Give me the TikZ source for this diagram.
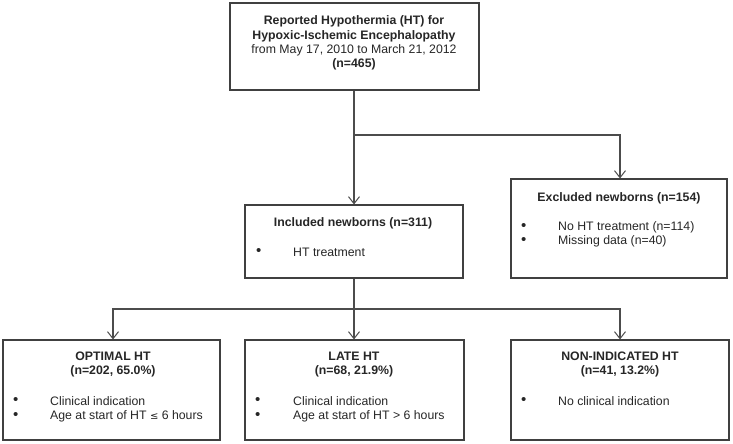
\documentclass[tikz,border=0pt]{standalone}
\usepackage{fontspec}
\setmainfont{Liberation Sans}
\usetikzlibrary{arrows.meta}
\begin{document}
\begin{tikzpicture}[x=1pt,y=-1pt,
  box/.style={draw=black!75,line width=1.1pt,rectangle,inner sep=0pt},
  conn/.style={draw=black!70,line width=1.1pt},
  arr/.style={conn,-{Straight Barb[length=7pt,width=11pt,line width=1pt]}},
  txt/.style={inner sep=0pt,font=\fontsize{12.3}{14.3}\selectfont,text=black!85},
  ttl/.style={txt,font=\fontsize{12.3}{14.3}\selectfont\bfseries,align=center},
  bul/.style={txt,anchor=west},
  dot/.style={txt,anchor=west,font=\fontsize{15}{14.3}\selectfont}]
\useasboundingbox (0,0) rectangle (733,444);
% boxes
\node[box,minimum width=249pt,minimum height=87pt] (top) at (354.5,46.5) {};
\node[box,minimum width=218pt,minimum height=73pt] (incl) at (354,241.5) {};
\node[box,minimum width=216pt,minimum height=99pt] (excl) at (619,228.5) {};
\node[box,minimum width=217pt,minimum height=100pt] (opt) at (111.5,390) {};
\node[box,minimum width=219pt,minimum height=100pt] (late) at (354.5,390) {};
\node[box,minimum width=218pt,minimum height=100pt] (non) at (620,390) {};
% top text
\node[ttl] (toptxt) at (354,43) {Reported Hypothermia (HT) for\\Hypoxic-Ischemic Encephalopathy\\\mdseries from May 17, 2010 to March 21, 2012\\(n=465)};
% included
\node[ttl] (incltitle) at (353,223) {Included newborns (n=311)};
\node[dot] (inclb) at (256,252) {\textbullet};
\node[bul] (inclt) at (293,252) {HT treatment};
% excluded
\node[ttl] (excltitle) at (619,198) {Excluded newborns (n=154)};
\node[dot] (exclb1) at (521,227) {\textbullet};
\node[bul] (exclt1) at (558,227) {No HT treatment (n=114)};
\node[dot] (exclb2) at (521,241) {\textbullet};
\node[bul] (exclt2) at (558,241) {Missing data (n=40)};
% optimal
\node[ttl] (opttitle) at (113,364.5) {OPTIMAL HT\\(n=202, 65.0\%)};
\node[dot] (optb1) at (13,401) {\textbullet};
\node[bul] (optt1) at (50,401) {Clinical indication};
\node[dot] (optb2) at (13,416) {\textbullet};
\node[bul] (optt2) at (50,416) {Age at start of HT {\fontspec{DejaVu Sans}\fontsize{10}{12}\selectfont ≤} 6 hours};
% late
\node[ttl] (latetitle) at (354,364.5) {LATE HT\\(n=68, 21.9\%)};
\node[dot] (lateb1) at (255,401) {\textbullet};
\node[bul] (latet1) at (293,401) {Clinical indication};
\node[dot] (lateb2) at (255,416) {\textbullet};
\node[bul] (latet2) at (293,416) {Age at start of HT > 6 hours};
% non-indicated
\node[ttl] (nontitle) at (620,364.5) {NON-INDICATED HT\\(n=41, 13.2\%)};
\node[dot] (nonb1) at (521,401) {\textbullet};
\node[bul] (nont1) at (558,401) {No clinical indication};
% connectors
\coordinate (split1) at (354,135);
\coordinate (split2) at (354,309);
\draw[arr] (top.south -| split1) -- (incl.north -| split1);
\draw[arr] (split1) -| (excl.north -| 620,0);
\draw[conn] (incl.south -| split2) -- (split2);
\draw[arr] (split2) -| (opt.north -| 113,0);
\draw[arr] (split2) -- (late.north -| split2);
\draw[arr] (split2) -| (non.north -| 620,0);
\end{tikzpicture}
\end{document}
